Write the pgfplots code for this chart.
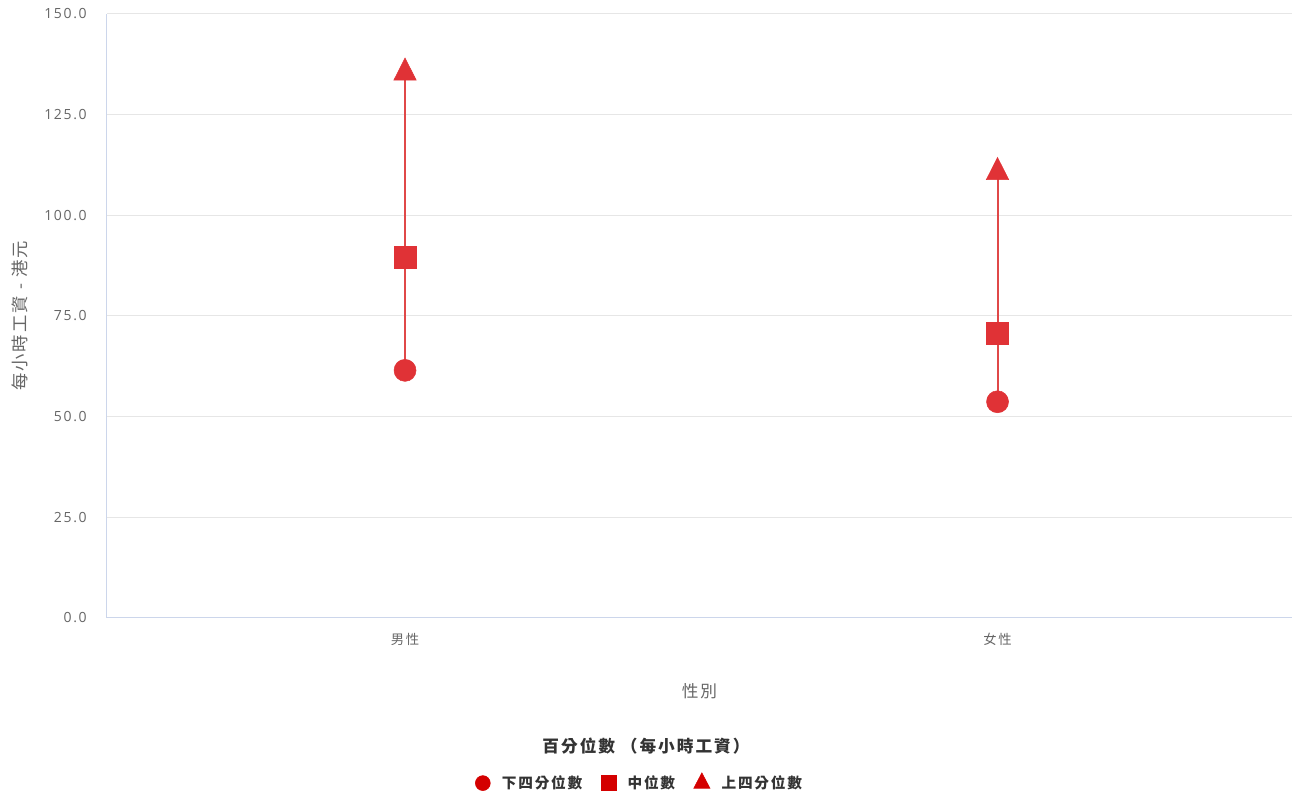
\documentclass[border=0pt]{standalone}
\usepackage{fontspec}
\setmainfont{Open Sans}[LetterSpace=12]
\newfontfamily\cjk{Noto Sans CJK TC}[LetterSpace=12]
\usepackage{pgfplots}
\pgfplotsset{compat=1.18}
\definecolor{mkred}{HTML}{E03236}
\definecolor{linered}{HTML}{E04848}
\definecolor{legred}{HTML}{D40000}
\definecolor{gridc}{HTML}{E6E6E6}
\definecolor{axc}{HTML}{CCD6EB}
\definecolor{tickc}{HTML}{666666}
\definecolor{titc}{HTML}{333333}
\begin{document}
\begin{tikzpicture}[x=1pt,y=1pt]
\path[use as bounding box] (-80.25,-135) rectangle (888.75,463.5);
\begin{axis}[
  at={(0,0)}, anchor=south west,
  scale only axis, width=888.75pt, height=453pt,
  xmin=-0.503, xmax=1.497, ymin=0, ymax=150,
  xtick={0,1}, xticklabels={男性,女性},
  ytick={0,25,50,75,100,125,150},
  axis x line*=bottom, axis y line*=left,
  axis line style={draw=axc, line width=0.75pt, -},
  major tick length=0pt,
  ymajorgrids, grid style={draw=gridc, line width=0.75pt},
  xticklabel style={font=\cjk\fontsize{10}{12}\selectfont, text=tickc, anchor=center, yshift=-15.75pt},
  yticklabel style={font=\fontsize{10.5}{12}\selectfont, text=tickc, anchor=east, inner sep=0pt, xshift=-15pt,
    /pgf/number format/fixed, /pgf/number format/fixed zerofill, /pgf/number format/precision=1,
    /pgf/number format/assume math mode=true},
  xlabel={性別},
  xlabel style={font=\cjk\fontsize{12.5}{14}\selectfont, text=tickc, at={(axis description cs:0.5,-0.1209)}, anchor=center},
  ylabel={每小時工資 - 港元},
  ylabel style={font=\cjk\fontsize{13}{14}\selectfont, text=tickc, at={(axis description cs:-0.0731,0.5)}, anchor=center},
  legend columns=3,
  legend style={at={(axis description cs:0.4498,-0.2732)}, anchor=center, draw=none, fill=none,
    font=\cjk\bfseries\fontsize{11}{13}\selectfont, text=titc,
    /tikz/every odd column/.append style={column sep=6.75pt},
    /tikz/every even column/.append style={column sep=12pt}},
]
\addplot[draw=linered, line width=1.5pt, forget plot] coordinates {(0,61.5) (0,135.4)};
\addplot[draw=linered, line width=1.5pt, forget plot] coordinates {(1,53.7) (1,110.7)};
\addplot[only marks, mark=*, mark size=8.25pt, color=mkred, forget plot] coordinates {(0,61.5) (1,53.7)};
\addplot[only marks, mark=square*, mark size=8.25pt, color=mkred, forget plot] coordinates {(0,89.6) (1,70.7)};
\addplot[only marks, mark=triangle*, mark size=9.7pt, mark options={yscale=1.14}, color=mkred, forget plot] coordinates {(0,135.4) (1,110.7)};
\addlegendimage{only marks, mark=*, mark size=5.6pt, color=legred}
\addlegendentry{下四分位數}
\addlegendimage{only marks, mark=square*, mark size=5.6pt, color=legred}
\addlegendentry{中位數}
\addlegendimage{only marks, mark=triangle*, mark size=7pt, mark options={yscale=1.1}, color=legred}
\addlegendentry{上四分位數}
\end{axis}
\node[font=\cjk\bfseries\fontsize{12.5}{14}\selectfont, text=titc] at (404.25,-96) {百分位數 （每小時工資）};
\end{tikzpicture}
\end{document}
